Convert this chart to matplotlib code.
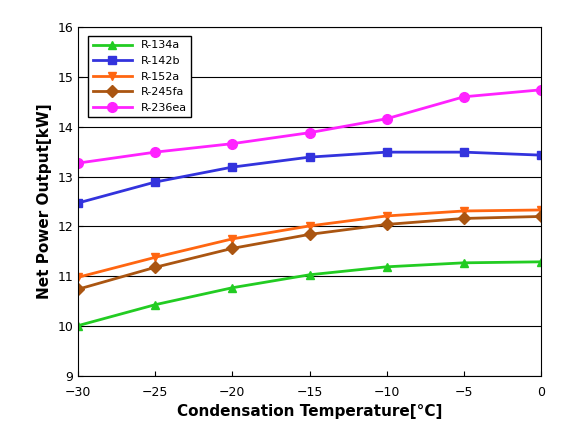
import matplotlib
matplotlib.use("Agg")
import matplotlib.pyplot as plt

temps = [-30, -25, -20, -15, -10, -5, 0]
r134a = [10.01, 10.43, 10.77, 11.03, 11.19, 11.27, 11.29]
r142b = [12.47, 12.89, 13.19, 13.39, 13.49, 13.49, 13.43]
r152a = [10.98, 11.38, 11.75, 12.01, 12.21, 12.31, 12.33]
r245fa = [10.74, 11.18, 11.56, 11.84, 12.04, 12.16, 12.20]
r236ea = [13.27, 13.49, 13.66, 13.88, 14.16, 14.60, 14.74]

series = [
    ("R-134a", r134a, "#22cc22", "^"),
    ("R-142b", r142b, "#3333dd", "s"),
    ("R-152a", r152a, "#ff6611", "v"),
    ("R-245fa", r245fa, "#aa5511", "D"),
    ("R-236ea", r236ea, "#ff22ff", "o"),
]

fig = plt.figure(figsize=(5.66, 4.33), dpi=100)
ax = fig.add_axes([78/566, 1-376/433, (541-78)/566, (376-27)/433])
for name, vals, c, m in series:
    ax.plot(temps, vals, color=c, marker=m, lw=2, ms=6 if m != "o" else 7, label=name)
ax.set_xlim(-30, 0)
ax.set_ylim(9, 16)
ax.set_xticks(range(-30, 1, 5))
ax.set_yticks(range(9, 17))
ax.grid(axis="y", color="black", lw=0.8)
ax.tick_params(direction="in", labelsize=9)
ax.tick_params(axis="x", pad=7)
ax.set_xlabel("Condensation Temperature[°C]", fontsize=11, fontweight="bold")
ax.set_ylabel("Net Power Output[kW]", fontsize=11, fontweight="bold")
leg = ax.legend(loc="upper left", fontsize=8, fancybox=False, edgecolor="black",
                framealpha=1, bbox_to_anchor=(0.01, 0.99), handlelength=3.5)
fig.savefig("out.png", dpi=100)
